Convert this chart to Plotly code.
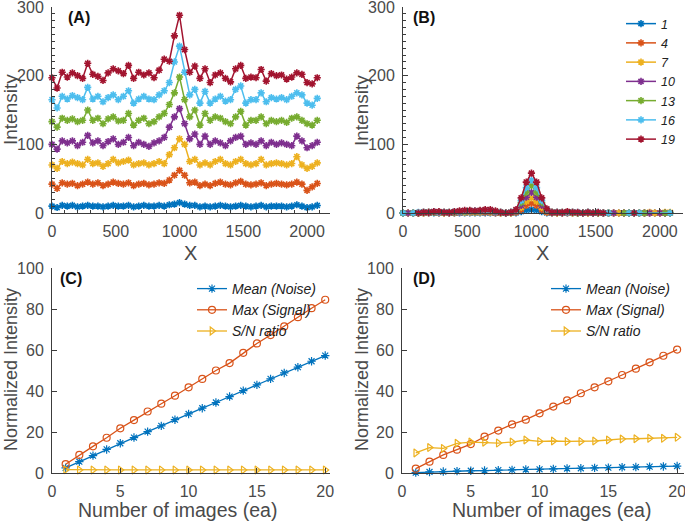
import plotly.graph_objects as go

# ---------------- data ----------------
x_pos = [0, 40, 80, 120, 160, 200, 240, 280, 320, 360, 400, 440, 480, 520, 560, 600, 640, 680,
         720, 760, 800, 840, 880, 920, 960, 1000, 1040, 1080, 1120, 1160, 1200, 1240, 1280, 1320,
         1360, 1400, 1440, 1480, 1520, 1560, 1600, 1640, 1680, 1720, 1760, 1800, 1840, 1880, 1920,
         1960, 2000, 2040, 2080]
series_names = ["1", "4", "7", "10", "13", "16", "19"]
colors = ["#0072BD", "#D95319", "#EDB120", "#7E2F8E", "#77AC30", "#4DBEEE", "#A2142F"]

a1 = [10,8,11,10,11,9,10,11,10,10,9,10,11,10,10,11,9,10,11,10,10,11,10,12,13,15,13,11,11,9,10,9,10,11,10,9,10,11,10,9,10,11,9,10,10,10,9,10,12,10,8,9,11]
a4 = [42,36,44,42,43,40,42,45,42,44,40,42,45,43,42,44,40,42,43,41,42,44,43,48,55,62,55,44,45,40,42,40,43,45,42,41,44,46,42,41,42,44,40,42,43,42,41,42,45,42,33,38,43]
a7 = [70,65,75,72,74,72,70,78,72,73,68,72,78,73,75,77,70,72,73,70,72,75,72,85,95,108,100,75,78,70,73,70,75,78,72,70,75,78,72,70,72,78,70,72,73,72,70,72,82,70,65,68,73]
a10 = [100,93,105,102,105,98,103,113,102,105,98,104,108,100,103,110,98,103,100,97,102,105,110,125,140,152,130,108,115,100,112,100,105,102,98,105,110,112,100,102,100,105,98,103,100,102,100,98,112,105,95,98,103]
a13 = [133,125,138,135,137,133,135,150,135,138,130,137,140,134,135,145,128,135,138,130,133,140,145,158,175,198,165,140,150,128,145,135,140,138,133,130,140,148,128,135,135,140,130,135,133,135,132,138,140,135,130,128,135]
a16 = [165,153,170,166,171,168,165,183,166,170,162,168,172,165,170,178,160,166,170,166,165,172,178,190,220,243,205,172,180,160,177,160,166,170,163,165,180,185,160,165,165,175,162,168,166,168,165,170,175,172,160,157,167]
a19 = [197,182,205,198,204,200,196,218,202,199,193,204,210,207,203,215,196,205,201,204,197,208,224,221,258,288,238,205,214,196,210,190,201,204,196,191,210,215,196,198,197,209,192,203,200,201,195,198,204,202,190,188,197]

b1 = [0,0,0,0,0,0,0,0,0,0,0,0,0,0,0,0,0,0,0,0,0,0,0,2,4,5,4,2,0,0,0,0,0,0,0,0,0,0,0,0,0,0,0,0,0,0,0,0,0,0,0,0,0]
b4 = [0,0,0,0,0,0,1,0,0,0,0,1,1,1,1,1,1,1,0,0,0,0,1,5,11,14,11,5,1,0,0,0,0,0,0,0,0,0,0,0,0,0,0,0,0,0,0,0,0,0,0,0,0]
b7 = [0,0,0,0,0,1,1,1,0,0,1,1,1,1,1,1,2,1,1,0,0,0,2,8,17,22,17,8,2,1,0,0,1,0,0,0,0,0,0,0,0,0,0,0,0,0,0,0,1,0,0,1,1]
b10 = [0,0,0,0,1,1,1,1,1,0,1,1,2,2,2,2,2,2,1,1,0,1,2,11,23,30,23,11,3,1,1,0,1,1,0,0,1,0,0,0,0,0,-1,0,0,0,0,0,0,-1,0,0,0]
b13 = [0,-1,0,0,1,1,1,1,1,1,1,2,2,3,2,3,3,3,2,1,0,1,3,15,30,40,30,15,4,1,1,1,1,1,0,0,1,0,0,0,0,-1,-1,0,0,0,0,0,-1,-1,-1,0,0]
b16 = [0,-1,0,1,1,1,2,1,1,1,2,2,3,3,3,3,4,4,2,1,0,1,4,18,37,48,37,18,5,1,1,1,1,1,1,0,1,0,1,0,0,-1,-1,-1,0,0,0,-1,-1,-1,-1,-1,0]
b19 = [-1,-2,-1,0,1,1,2,2,1,1,2,3,4,4,3,4,5,5,3,1,0,1,5,22,45,58,45,22,6,1,1,1,2,1,1,0,1,0,1,0,-1,-2,-2,-1,-1,0,-1,-1,-2,-2,-2,-2,-1]

n_images = [1, 2, 3, 4, 5, 6, 7, 8, 9, 10, 11, 12, 13, 14, 15, 16, 17, 18, 19, 20]
c_mean = [2.5, 5.5, 8.5, 11.5, 14.5, 17.3, 20.2, 23.0, 26.0, 28.8, 31.6, 34.4, 37.3, 40.2, 43.0, 45.9, 48.8, 51.6, 54.5, 57.3]
c_max = [4.3, 8.8, 13.0, 17.2, 21.8, 25.8, 30.0, 33.8, 37.7, 41.8, 45.9, 50.0, 53.6, 58.6, 63.2, 67.3, 71.5, 76.0, 80.4, 84.5]
c_sn = [1.6, 1.5, 1.5, 1.5, 1.5, 1.5, 1.5, 1.5, 1.5, 1.5, 1.5, 1.5, 1.5, 1.5, 1.5, 1.5, 1.5, 1.5, 1.5, 1.5]
d_mean = [0.2, 0.5, 0.7, 0.9, 1.1, 1.2, 1.4, 1.5, 1.7, 1.8, 2.0, 2.2, 2.3, 2.5, 2.6, 2.8, 2.9, 3.1, 3.2, 3.4]
d_max = [2.1, 5.5, 8.8, 11.4, 14.1, 17.7, 20.7, 23.7, 26.0, 29.1, 32.4, 35.4, 38.9, 41.8, 44.7, 47.8, 50.9, 54.0, 57.2, 60.2]
d_sn = [9.8, 12.4, 12.0, 14.5, 15.1, 15.0, 14.6, 15.1, 16.1, 15.4, 15.6, 15.4, 15.4, 15.6, 16.1, 16.6, 16.7, 16.9, 16.9, 17.4]
line_names = ["Mean (Noise)", "Max (Signal)", "S/N ratio"]

# ---------------- figure ----------------
W, H = 685, 522
AX = "#3c3c3c"
TXT = "#4a4a4a"
FONT = "Liberation Sans, Arial, sans-serif"

fig = go.Figure()

A_series = [a1, a4, a7, a10, a13, a16, a19]
B_series = [b1, b4, b7, b10, b13, b16, b19]

for name, col, ys in zip(series_names, colors, A_series):
    fig.add_trace(go.Scatter(x=x_pos, y=ys, mode="lines+markers", name=name, showlegend=False,
                             line=dict(color=col, width=1.5),
                             marker=dict(symbol="asterisk-open", size=6, color=col, line=dict(color=col, width=1.6)),
                             xaxis="x", yaxis="y", cliponaxis=False))
for name, col, ys in zip(series_names, colors, B_series):
    fig.add_trace(go.Scatter(x=x_pos, y=ys, mode="lines+markers", name=name, legend="legend",
                             line=dict(color=col, width=1.5),
                             marker=dict(symbol="asterisk-open", size=6, color=col, line=dict(color=col, width=1.6)),
                             xaxis="x2", yaxis="y2", cliponaxis=False))

cd_syms = ["asterisk-open", "circle-open", "triangle-right-open"]
cd_cols = ["#0072BD", "#D95319", "#EDB120"]
for name, sym, col, ys in zip(line_names, cd_syms, cd_cols, [c_mean, c_max, c_sn]):
    fig.add_trace(go.Scatter(x=n_images, y=ys, mode="lines+markers", name=name, legend="legend2",
                             line=dict(color=col, width=1.3),
                             marker=dict(symbol=sym, size=7, color=col, line=dict(color=col, width=1.2)),
                             xaxis="x3", yaxis="y3", cliponaxis=False))
for name, sym, col, ys in zip(line_names, cd_syms, cd_cols, [d_mean, d_max, d_sn]):
    fig.add_trace(go.Scatter(x=n_images, y=ys, mode="lines+markers", name=name, legend="legend3",
                             line=dict(color=col, width=1.3),
                             marker=dict(symbol=sym, size=7, color=col, line=dict(color=col, width=1.2)),
                             xaxis="x4", yaxis="y4", cliponaxis=False))


def axis(domain, rng, dtick, minor_dtick, anchor):
    d = dict(domain=domain, range=rng, dtick=dtick, tick0=0, showline=True, linecolor=AX, linewidth=1,
             ticks="inside", ticklen=5, tickwidth=1, tickcolor=AX, showgrid=False, zeroline=False, anchor=anchor,
             automargin=False, ticklabeloverflow="allow",
             tickfont=dict(size=16, color=TXT, family=FONT), ticklabelstandoff=4)
    if minor_dtick:
        d["minor"] = dict(dtick=minor_dtick, tick0=0, ticks="inside", ticklen=3, tickwidth=1, tickcolor=AX, showgrid=False)
    return d


top = [1 - 213 / H, 1 - 7 / H]
bot = [1 - 473 / H, 1 - 268 / H]

LEGFONT_B = dict(size=12.5, color="#222222", family=FONT, style="italic")
LEGFONT_CD = dict(size=14, color="#222222", family=FONT, style="italic")
fig.update_layout(
    width=W, height=H, margin=dict(l=0, r=0, t=0, b=0, autoexpand=False),
    paper_bgcolor="white", plot_bgcolor="white",
    font=dict(family=FONT, color=TXT),
    xaxis=axis([52 / W, 330 / W], [0, 2180], 500, 100, "y"),
    yaxis=axis(top, [0, 300], 100, 10, "x"),
    xaxis2=axis([403 / W, 683 / W], [0, 2180], 500, 100, "y2"),
    yaxis2=axis(top, [0, 300], 100, 10, "x2"),
    xaxis3=axis([52 / W, 330 / W], [0, 20.35], 5, None, "y3"),
    yaxis3=axis(bot, [0, 100], 20, None, "x3"),
    xaxis4=axis([402 / W, 684 / W], [0, 20.5], 5, None, "y4"),
    yaxis4=axis(bot, [0, 100], 20, None, "x4"),
    legend=dict(x=621 / W, y=1 - 9 / H, xanchor="left", yanchor="top", bgcolor="rgba(0,0,0,0)",
                font=LEGFONT_B, itemwidth=30, tracegroupgap=0),
    legend2=dict(x=192 / W, y=1 - 273 / H, xanchor="left", yanchor="top", bgcolor="rgba(0,0,0,0)",
                 font=LEGFONT_CD, itemwidth=30),
    legend3=dict(x=546 / W, y=1 - 273 / H, xanchor="left", yanchor="top", bgcolor="rgba(0,0,0,0)",
                 font=LEGFONT_CD, itemwidth=30),
)

ann = []
def txt(x, y, s, size=18, angle=0, bold=False, color=TXT):
    ann.append(dict(x=x / W, y=1 - y / H, xref="paper", yref="paper", text=("<b>%s</b>" % s) if bold else s,
                    showarrow=False, textangle=angle, xanchor="center", yanchor="middle",
                    font=dict(size=size, color=color, family=FONT)))

txt(10, 110, "Intensity", 19, -90)
txt(361, 110, "Intensity", 19, -90)
txt(190, 253, "X", 20)
txt(542, 253, "X", 20)
txt(11, 370, "Normalized Intensity", 18, -90)
txt(362, 370, "Normalized Intensity", 18, -90)
txt(177, 510, "Number of images (ea)", 19.5)
txt(551, 510, "Number of images (ea)", 19.5)
txt(79, 18, "(A)", 16, 0, True, "#111111")
txt(424, 18, "(B)", 16, 0, True, "#111111")
txt(71, 278, "(C)", 16, 0, True, "#111111")
txt(424, 278, "(D)", 16, 0, True, "#111111")
fig.update_layout(annotations=ann)

fig.write_html("out.html", config={"displayModeBar": False},
               post_script="document.body.style.margin='0';")
